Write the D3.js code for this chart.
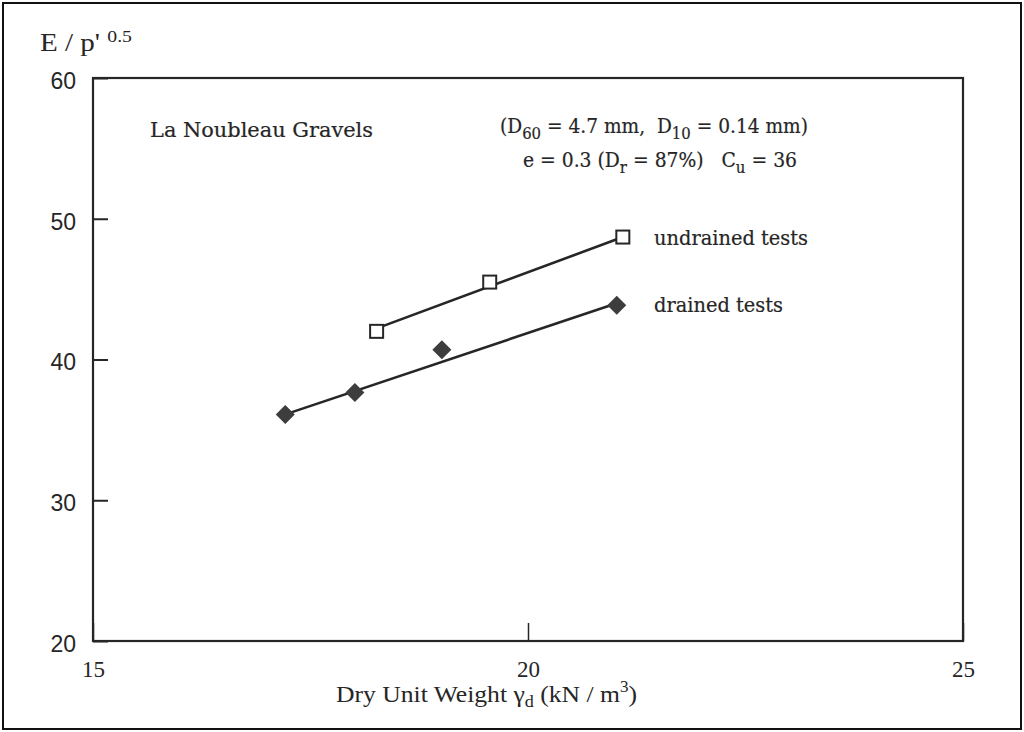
<!DOCTYPE html>
<html>
<head>
<meta charset="utf-8">
<script src="https://cdn.jsdelivr.net/npm/d3@7"></script>
<style>
  body { margin: 0; background: #fff; }
  svg { display: block; }
  text { white-space: pre; }
</style>
</head>
<body>
<svg id="chart"></svg>
<script>
// data
const undrainedX = [18.26, 19.56, 21.09];
const undrainedY = [42.0, 45.5, 48.7];
const drainedX = [17.21, 18.01, 19.01, 21.02];
const drainedY = [36.1, 37.65, 40.7, 43.85];
// fitted lines as drawn (end points)
const undrainedFitX = [18.3, 21.09];
const undrainedFitY = [42.3, 48.7];
const drainedFitX = [17.21, 21.02];
const drainedFitY = [36.1, 44.0];

const xTicks = [15, 20, 25];
const yTicks = [20, 30, 40, 50, 60];

const W = 1024, H = 732;
const box = { left: 93, top: 78, right: 963, bottom: 641 };
const ink = "#262626";

const svg = d3.select("#chart").attr("width", W).attr("height", H);

// outer frame of the picture
svg.append("rect")
    .attr("x", 3).attr("y", 3)
    .attr("width", W - 6).attr("height", H - 6)
    .attr("fill", "none").attr("stroke", "#111").attr("stroke-width", 2);

const x = d3.scaleLinear().domain([15, 25]).range([box.left, box.right]);
const y = d3.scaleLinear().domain([20, 60]).range([box.bottom, box.top]);

// axes (ticks point inside)
const yAxis = svg.append("g")
    .attr("transform", "translate(" + box.left + ",0)")
    .call(d3.axisLeft(y).tickValues(yTicks).tickSize(-15).tickPadding(17).tickFormat(d3.format("d")));
yAxis.select(".domain").remove();
yAxis.selectAll("line").attr("stroke", ink).attr("stroke-width", 2);
yAxis.selectAll("text")
    .attr("font-family", "Liberation Sans, Arial, sans-serif")
    .attr("font-size", 23).attr("fill", ink)
    .attr("dy", "0.45em");

const xAxis = svg.append("g")
    .attr("transform", "translate(0," + box.bottom + ")")
    .call(d3.axisBottom(x).tickValues(xTicks).tickSize(-18).tickPadding(20).tickFormat(d3.format("d")));
xAxis.select(".domain").remove();
xAxis.selectAll("line").attr("stroke", ink).attr("stroke-width", 1.5);
xAxis.selectAll("text")
    .attr("font-family", "Liberation Serif, Times New Roman, serif")
    .attr("font-size", 23).attr("fill", ink);

// plot box
svg.append("rect")
    .attr("x", box.left).attr("y", box.top)
    .attr("width", box.right - box.left).attr("height", box.bottom - box.top)
    .attr("fill", "none").attr("stroke", ink).attr("stroke-width", 2.2);

// fitted lines
const line = d3.line().x(d => x(d[0])).y(d => y(d[1]));
svg.append("path")
    .datum(d3.zip(undrainedFitX, undrainedFitY))
    .attr("d", line).attr("fill", "none").attr("stroke", ink).attr("stroke-width", 2.6);
svg.append("path")
    .datum(d3.zip(drainedFitX, drainedFitY))
    .attr("d", line).attr("fill", "none").attr("stroke", ink).attr("stroke-width", 2.6);

// drained: filled diamonds
svg.selectAll(".drained")
    .data(d3.zip(drainedX, drainedY))
    .enter().append("path")
    .attr("class", "drained")
    .attr("transform", d => "translate(" + x(d[0]) + "," + y(d[1]) + ")")
    .attr("d", "M0,-9.5L9.5,0L0,9.5L-9.5,0Z")
    .attr("fill", "#3d3d3d");

// undrained: open squares
svg.selectAll(".undrained")
    .data(d3.zip(undrainedX, undrainedY))
    .enter().append("rect")
    .attr("class", "undrained")
    .attr("x", d => x(d[0]) - 6.5).attr("y", d => y(d[1]) - 6.5)
    .attr("width", 13).attr("height", 13)
    .attr("fill", "#fff").attr("stroke", ink).attr("stroke-width", 2);

// annotations
const serif = "DejaVu Serif, serif";
function note(tx, ty, len) {
  return svg.append("text")
    .attr("x", tx).attr("y", ty)
    .attr("font-family", serif).attr("font-size", 20).attr("fill", ink)
    .attr("stroke", ink).attr("stroke-width", 0.2)
    .attr("textLength", len).attr("lengthAdjust", "spacingAndGlyphs");
}

note(150, 137, 223).text("La Noubleau Gravels");
note(654, 245, 154).text("undrained tests");
note(654, 312, 129).text("drained tests");

const t1 = note(500, 133, 308);
t1.append("tspan").text("(D");
t1.append("tspan").attr("dy", 6).attr("font-size", 16).text("60");
t1.append("tspan").attr("dy", -6).text(" = 4.7 mm,  D");
t1.append("tspan").attr("dy", 6).attr("font-size", 16).text("10");
t1.append("tspan").attr("dy", -6).text(" = 0.14 mm)");

const t2 = note(523, 167, 274);
t2.append("tspan").text("e = 0.3 (D");
t2.append("tspan").attr("dy", 6).attr("font-size", 16).text("r");
t2.append("tspan").attr("dy", -6).text(" = 87%)   C");
t2.append("tspan").attr("dy", 6).attr("font-size", 16).text("u");
t2.append("tspan").attr("dy", -6).text(" = 36");

// y title
const yt = svg.append("text")
    .attr("x", 40).attr("y", 51)
    .attr("font-family", "Liberation Serif, Times New Roman, serif")
    .attr("font-size", 25).attr("fill", ink)
    .attr("textLength", 92).attr("lengthAdjust", "spacingAndGlyphs");
yt.append("tspan").text("E / p' ");
yt.append("tspan").attr("dy", -9).attr("font-size", 17).text("0.5");

// x title
const xt = svg.append("text")
    .attr("x", 336).attr("y", 702)
    .attr("font-family", "Liberation Serif, Times New Roman, serif")
    .attr("font-size", 24).attr("fill", ink)
    .attr("textLength", 301).attr("lengthAdjust", "spacingAndGlyphs");
xt.append("tspan").text("Dry Unit Weight \u03b3");
xt.append("tspan").attr("dy", 5).attr("font-size", 17).text("d");
xt.append("tspan").attr("dy", -5).text(" (kN / m");
xt.append("tspan").attr("dy", -10).attr("font-size", 16).text("3");
xt.append("tspan").attr("dy", 10).text(")");
</script>
</body>
</html>
